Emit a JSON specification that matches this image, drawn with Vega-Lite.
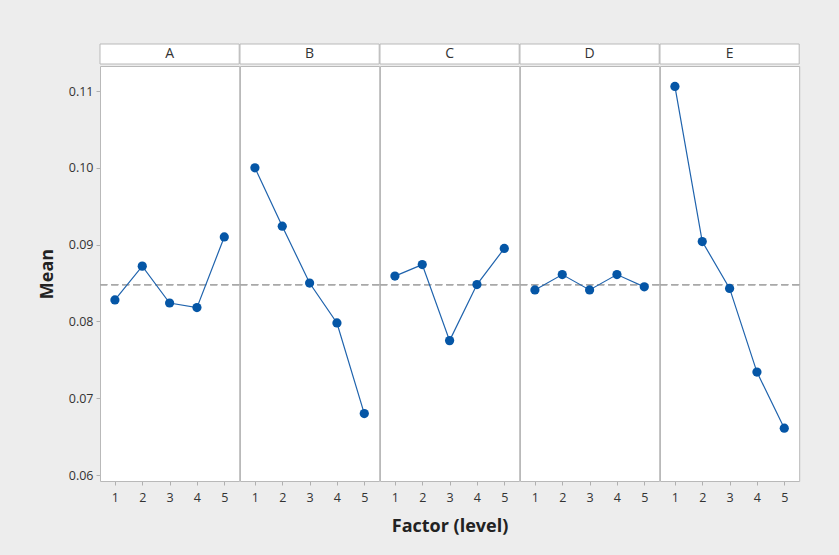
{
  "$schema": "https://vega.github.io/schema/vega-lite/v6.json",
  "background": "#ededed",
  "padding": {"left": 38, "top": 43, "right": 42, "bottom": 25},
  "spacing": 0,
  "config": {
    "font": "Open Sans",
    "view": {"stroke": "#b9b9b9", "strokeWidth": 1, "fill": "white"},
    "concat": {"spacing": 0},
    "facet": {"spacing": 0}
  },
  "data": {
    "values": [
      {"factor": "A", "level": 1, "mean": 0.0828},
      {"factor": "A", "level": 2, "mean": 0.0872},
      {"factor": "A", "level": 3, "mean": 0.0824},
      {"factor": "A", "level": 4, "mean": 0.0818},
      {"factor": "A", "level": 5, "mean": 0.0910},
      {"factor": "B", "level": 1, "mean": 0.1000},
      {"factor": "B", "level": 2, "mean": 0.0924},
      {"factor": "B", "level": 3, "mean": 0.0850},
      {"factor": "B", "level": 4, "mean": 0.0798},
      {"factor": "B", "level": 5, "mean": 0.0680},
      {"factor": "C", "level": 1, "mean": 0.0859},
      {"factor": "C", "level": 2, "mean": 0.0874},
      {"factor": "C", "level": 3, "mean": 0.0775},
      {"factor": "C", "level": 4, "mean": 0.0848},
      {"factor": "C", "level": 5, "mean": 0.0895},
      {"factor": "D", "level": 1, "mean": 0.0841},
      {"factor": "D", "level": 2, "mean": 0.0861},
      {"factor": "D", "level": 3, "mean": 0.0841},
      {"factor": "D", "level": 4, "mean": 0.0861},
      {"factor": "D", "level": 5, "mean": 0.0845},
      {"factor": "E", "level": 1, "mean": 0.1106},
      {"factor": "E", "level": 2, "mean": 0.0904},
      {"factor": "E", "level": 3, "mean": 0.0843},
      {"factor": "E", "level": 4, "mean": 0.0734},
      {"factor": "E", "level": 5, "mean": 0.0661}
    ]
  },
  "vconcat": [
    {
      "transform": [{"filter": "datum.level == 1"}],
      "facet": {"column": {"field": "factor", "type": "nominal", "header": null}},
      "spacing": 0,
      "bounds": "flush",
      "spec": {
        "width": 139.2,
        "height": 20,
        "layer": [
          {
            "mark": {"type": "rect", "fill": "white", "stroke": "#b9b9b9", "strokeWidth": 1},
            "encoding": {}
          },
          {
            "mark": {"type": "text", "fontSize": 14, "color": "#333333", "baseline": "middle", "align": "center"},
            "encoding": {"text": {"field": "factor", "type": "nominal"}}
          }
        ]
      }
    },
    {
      "facet": {
        "column": {
          "field": "factor",
          "type": "nominal",
          "header": {
            "labels": false,
            "labelPadding": 0,
            "title": "Factor (level)",
            "titleOrient": "bottom",
            "titleFont": "Open Sans",
            "titleFontSize": 18,
            "titleFontWeight": "bold",
            "titleColor": "#222222",
            "titlePadding": 4
          }
        }
      },
      "spacing": 0,
      "bounds": "flush",
      "spec": {
        "width": 139.2,
        "height": 415,
        "layer": [
          {
            "mark": {"type": "rule", "strokeDash": [7, 4], "color": "#a9a9a9", "strokeWidth": 1.2},
            "encoding": {"y": {"datum": 0.0848, "type": "quantitative"}}
          },
          {
            "mark": {
              "type": "line",
              "color": "#1f63ad",
              "strokeWidth": 1.2,
              "point": {"filled": true, "size": 85, "color": "#0556a6", "opacity": 1}
            },
            "encoding": {
              "x": {
                "field": "level",
                "type": "quantitative",
                "scale": {"domain": [0.4545, 5.5455], "nice": false, "zero": false},
                "axis": {
                  "values": [1, 2, 3, 4, 5],
                  "format": "d",
                  "title": null,
                  "labelFontSize": 12.5,
                  "labelColor": "#333333",
                  "labelPadding": 6,
                  "tickColor": "#b0b0b0",
                  "tickSize": 4,
                  "domain": false,
                  "grid": false
                }
              },
              "y": {
                "field": "mean",
                "type": "quantitative",
                "scale": {"domain": [0.05922, 0.11326], "nice": false, "zero": false},
                "axis": {
                  "values": [0.06, 0.07, 0.08, 0.09, 0.10, 0.11],
                  "format": ".2f",
                  "title": "Mean",
                  "titleFontSize": 18,
                  "titleFontWeight": "bold",
                  "titleColor": "#222222",
                  "titlePadding": 12,
                  "labelFontSize": 12.5,
                  "labelColor": "#333333",
                  "labelPadding": 3,
                  "tickColor": "#b0b0b0",
                  "tickSize": 4,
                  "domain": false,
                  "grid": false
                }
              }
            }
          }
        ]
      }
    }
  ]
}
